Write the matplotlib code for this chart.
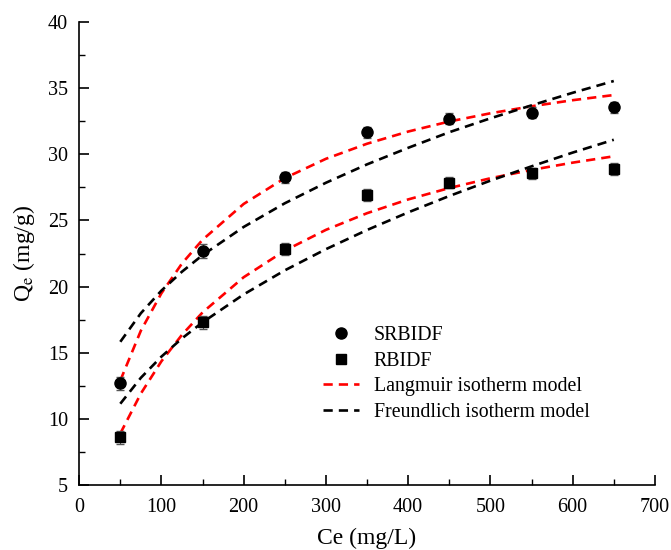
import matplotlib.pyplot as plt
import numpy as np

plt.rcParams['font.family'] = ['Liberation Serif', 'DejaVu Serif']
plt.rcParams['mathtext.fontset'] = 'stix'

# experimental points
ce = [50, 150, 250, 350, 450, 550, 650]
q_srbidf = [12.7, 22.7, 28.25, 31.65, 32.7, 33.15, 33.55]
q_rbidf = [8.6, 17.3, 22.85, 26.95, 27.85, 28.55, 28.9]
err_srbidf = [0.5, 0.5, 0.45, 0.4, 0.4, 0.4, 0.4]
err_rbidf = [0.5, 0.5, 0.45, 0.45, 0.4, 0.45, 0.45]

# model curves
ce_fit = [50, 75, 100, 125, 150, 200, 250, 300, 350, 400, 450, 500, 550, 600, 650]
lang_sr = [12.9, 16.67, 19.5, 21.75, 23.54, 26.25, 28.2, 29.66, 30.8, 31.72, 32.48, 33.1, 33.63, 34.09, 34.48]
lang_r = [8.9, 11.92, 14.36, 16.36, 18.05, 20.71, 22.72, 24.29, 25.55, 26.59, 27.45, 28.19, 28.82, 29.37, 29.85]
freu_sr = [15.83, 17.99, 19.7, 21.13, 22.38, 24.51, 26.3, 27.85, 29.24, 30.49, 31.67, 32.72, 33.7, 34.65, 35.54]
freu_r = [11.15, 13.11, 14.71, 16.09, 17.3, 19.41, 21.23, 22.83, 24.28, 25.61, 26.85, 28.01, 29.09, 30.13, 31.1]

fig = plt.figure(figsize=(6.71, 5.5), dpi=100)
ax = fig.add_axes([0.118, 0.118, 0.858, 0.842])

dash = (0, (3.5, 2.3))
ax.plot(ce_fit, lang_sr, color='#ff0000', lw=1.9, ls=dash, zorder=2)
ax.plot(ce_fit, lang_r, color='#ff0000', lw=1.9, ls=dash, zorder=2)
ax.plot(ce_fit, freu_sr, color='black', lw=1.9, ls=dash, zorder=2)
ax.plot(ce_fit, freu_r, color='black', lw=1.9, ls=dash, zorder=2)

ax.errorbar(ce, q_srbidf, yerr=err_srbidf, fmt='none', ecolor='#555555', elinewidth=0.8, capsize=3, zorder=3)
ax.errorbar(ce, q_rbidf, yerr=err_rbidf, fmt='none', ecolor='#555555', elinewidth=0.8, capsize=3, zorder=3)
ax.plot(ce, q_srbidf, 'o', color='black', ms=8, ls='none', label='SRBIDF', zorder=4)
ax.plot(ce, q_rbidf, 's', color='black', ms=7, ls='none', label='RBIDF', zorder=4)

# legend handles for the models
ax.plot([], [], color='#ff0000', lw=1.9, ls=dash, label='Langmuir isotherm model')
ax.plot([], [], color='black', lw=1.9, ls=dash, label='Freundlich isotherm model')

ax.set_xlim(0, 700)
ax.set_ylim(5, 40)
ax.set_xticks(np.arange(0, 701, 100))
ax.set_xticks(np.arange(50, 700, 100), minor=True)
ax.set_yticks(np.arange(5, 41, 5))
ax.set_yticks(np.arange(7.5, 40, 5), minor=True)
ax.tick_params(which='major', direction='in', length=7, width=1.2, labelsize=14.5)
ax.tick_params(axis='x', which='major', pad=9)
ax.tick_params(axis='y', which='major', pad=8)
ax.tick_params(which='minor', direction='in', length=4, width=1.0)
for s in ['top', 'right']:
    ax.spines[s].set_visible(False)
for s in ['left', 'bottom']:
    ax.spines[s].set_linewidth(1.2)

ax.set_xlabel('Ce (mg/L)', fontsize=17, labelpad=8)
ax.set_ylabel(r'Q$_{\mathrm{e}}$ (mg/g)', fontsize=17, labelpad=8)

ax.legend(loc='upper left', bbox_to_anchor=(0.41, 0.36), frameon=False, fontsize=14.3,
          handlelength=1.8, labelspacing=0.33, handletextpad=0.75, borderaxespad=0)

fig.savefig('out.png', dpi=100)
